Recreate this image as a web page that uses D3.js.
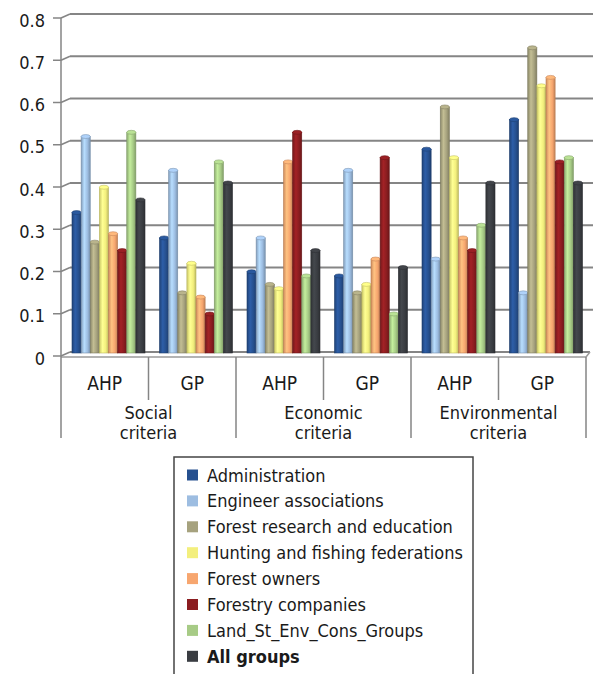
<!DOCTYPE html>
<html lang="en">
<head>
<meta charset="utf-8">
<title>Criteria weights by group</title>
<script type="text/javascript" src="https://cdn.jsdelivr.net/npm/d3@7"></script>
<style>
  body { margin: 0; background: #fff; }
  text { fill: #1a1a1a; font-family: "DejaVu Sans Condensed", "DejaVu Sans", sans-serif; font-stretch: condensed; }
  .tick-label { font-size: 18px; }
  .cat-label { font-size: 19px; }
  .legend-label { font-size: 18px; }
</style>
</head>
<body>
<div id="bod"></div>
<script type="text/javascript">
  // categories
  let criteria = ["Social criteria", "Economic criteria", "Environmental criteria"]
  let methods = ["AHP", "GP"]
  let yTicks = [0, 0.1, 0.2, 0.3, 0.4, 0.5, 0.6, 0.7, 0.8]

  // series (Social AHP, Social GP, Economic AHP, Economic GP, Environmental AHP, Environmental GP)
  let seriesNames = ["Administration", "Engineer associations", "Forest research and education",
                     "Hunting and fishing federations", "Forest owners", "Forestry companies",
                     "Land_St_Env_Cons_Groups", "All groups"]
  let administration   = [0.33, 0.27, 0.19, 0.18, 0.48, 0.55]
  let engineers        = [0.51, 0.43, 0.27, 0.43, 0.22, 0.14]
  let forestResearch   = [0.26, 0.14, 0.16, 0.14, 0.58, 0.72]
  let huntingFishing   = [0.39, 0.21, 0.15, 0.16, 0.46, 0.63]
  let forestOwners     = [0.28, 0.13, 0.45, 0.22, 0.27, 0.65]
  let forestryCompanies= [0.24, 0.09, 0.52, 0.46, 0.24, 0.45]
  let landEnvGroups    = [0.52, 0.45, 0.18, 0.09, 0.30, 0.46]
  let allGroups        = [0.36, 0.40, 0.24, 0.20, 0.40, 0.40]

  let seriesValues = [administration, engineers, forestResearch, huntingFishing,
                      forestOwners, forestryCompanies, landEnvGroups, allGroups]
  let colors = ["#26508f", "#9dbde1", "#a6a27e", "#f3ef7d", "#f7a66f", "#8b1d20", "#a7cb86", "#3a3d42"]

  let w = 593
  let h = 674
  let depthX = 9
  let depthY = 4

  let groupKeys = []
  criteria.forEach(function(c) { methods.forEach(function(m) { groupKeys.push(c + "|" + m) }) })

  let svg = d3.select("#bod")
              .append("svg")
              .attr("width", w)
              .attr("height", h);

  let defs = svg.append("defs")
  colors.forEach(function(c, i) {
    let g = defs.append("linearGradient")
                .attr("id", "cyl" + i)
                .attr("x1", "0%").attr("x2", "100%")
                .attr("y1", "0%").attr("y2", "0%")
    g.append("stop").attr("offset", "0%").attr("stop-color", d3.color(c).darker(0.5))
    g.append("stop").attr("offset", "35%").attr("stop-color", d3.color(c).brighter(0.45))
    g.append("stop").attr("offset", "70%").attr("stop-color", c)
    g.append("stop").attr("offset", "100%").attr("stop-color", d3.color(c).darker(0.7))
  })

  let yScale = d3.scaleLinear()
                 .domain([0, 0.8])
                 .range([352, 14]);

  let xGroup = d3.scaleBand()
                 .domain(groupKeys)
                 .range([61, 586]);

  let xSeries = d3.scaleBand()
                  .domain(seriesNames)
                  .range([11, 84]);

  let axisX = xGroup.range()[0]
  let floorRight = xGroup.range()[1]

  // gridlines on the back wall + slanted side wall edge
  yTicks.forEach(function(t) {
    let y = yScale(t)
    svg.append("line")
       .attr("x1", axisX + depthX).attr("x2", t === 0 ? floorRight + 4 : w)
       .attr("y1", y).attr("y2", y)
       .attr("stroke", "#858585").attr("stroke-width", 2)
    svg.append("line")
       .attr("x1", axisX).attr("x2", axisX + depthX)
       .attr("y1", y + depthY).attr("y2", y)
       .attr("stroke", "#858585").attr("stroke-width", 1.5)
    svg.append("line")
       .attr("x1", axisX - 8).attr("x2", axisX)
       .attr("y1", y + depthY).attr("y2", y + depthY)
       .attr("stroke", "#858585").attr("stroke-width", 1.5)
    svg.append("text")
       .attr("class", "tick-label")
       .attr("x", 45)
       .attr("y", y + depthY + 2)
       .attr("text-anchor", "end")
       .attr("dominant-baseline", "central")
       .text(t === 0 ? "0" : d3.format(".1f")(t))
  })

  // floor front edge
  svg.append("line")
     .attr("x1", axisX).attr("x2", floorRight)
     .attr("y1", yScale(0) + depthY + 1).attr("y2", yScale(0) + depthY + 1)
     .attr("stroke", "#9a9a9a").attr("stroke-width", 1.5)
  svg.append("line")
     .attr("x1", floorRight).attr("x2", floorRight + 4)
     .attr("y1", yScale(0) + depthY + 1).attr("y2", yScale(0))
     .attr("stroke", "#9a9a9a").attr("stroke-width", 1.5)

  // value axis line
  svg.append("line")
     .attr("x1", axisX).attr("x2", axisX)
     .attr("y1", yScale(0.8) + depthY).attr("y2", 438)
     .attr("stroke", "#858585").attr("stroke-width", 1.5)

  // bars as cylinders
  seriesNames.forEach(function(name, si) {
    let bars = svg.append("g").selectAll("g")
                  .data(seriesValues[si])
                  .enter()
                  .append("g")
    let bw = xSeries.bandwidth()
    bars.append("rect")
        .attr("x", function(d, i) { return xGroup(groupKeys[i]) + xSeries(name); })
        .attr("y", function(d) { return yScale(d); })
        .attr("width", bw)
        .attr("height", function(d) { return yScale(0) - yScale(d) + 1; })
        .attr("fill", "url(#cyl" + si + ")")
        .attr("stroke", d3.color(colors[si]).darker(0.8))
        .attr("stroke-width", 0.6)
    bars.append("ellipse")
        .attr("cx", function(d, i) { return xGroup(groupKeys[i]) + xSeries(name) + bw / 2; })
        .attr("cy", function(d) { return yScale(d); })
        .attr("rx", bw / 2)
        .attr("ry", 2)
        .attr("fill", d3.color(colors[si]).brighter(0.3))
        .attr("stroke", d3.color(colors[si]).darker(0.6))
        .attr("stroke-width", 0.6)
  })

  // category axis: separators and labels
  let catTop = yScale(0) + depthY + 1
  groupKeys.concat(["end"]).forEach(function(k, i) {
    let x = k === "end" ? floorRight : xGroup(k)
    if (i === 0) return
    svg.append("line")
       .attr("x1", x).attr("x2", x)
       .attr("y1", catTop).attr("y2", i % 2 === 0 ? 438 : 400)
       .attr("stroke", "#858585").attr("stroke-width", 1.5)
  })

  groupKeys.forEach(function(k) {
    svg.append("text")
       .attr("class", "cat-label")
       .attr("x", xGroup(k) + xGroup.bandwidth() / 2)
       .attr("y", 383)
       .attr("text-anchor", "middle")
       .attr("dominant-baseline", "central")
       .text(k.split("|")[1])
  })

  criteria.forEach(function(c) {
    let cx = xGroup(c + "|" + methods[0]) + xGroup.bandwidth()
    let words = c.split(" ")
    words.forEach(function(word, j) {
      svg.append("text")
         .attr("class", "cat-label")
         .attr("x", cx)
         .attr("y", 412 + j * 20)
         .attr("text-anchor", "middle")
         .attr("dominant-baseline", "central")
         .style("font-size", "18px")
         .text(word)
    })
  })

  // legend
  let legend = svg.append("g")
  legend.append("rect")
        .attr("x", 174).attr("y", 457)
        .attr("width", 299).attr("height", 230)
        .attr("fill", "#fff")
        .attr("stroke", "#444").attr("stroke-width", 1.5)

  let items = legend.selectAll("g.item")
                    .data(seriesNames)
                    .enter()
                    .append("g")
                    .attr("class", "item")
                    .attr("transform", function(d, i) { return "translate(187," + (475 + i * 25.9) + ")"; })
  items.append("rect")
       .attr("x", 0).attr("y", -5.5)
       .attr("width", 11).attr("height", 11)
       .attr("fill", function(d, i) { return colors[i]; })
  items.append("text")
       .attr("class", "legend-label")
       .attr("x", 20)
       .attr("y", 0)
       .attr("dominant-baseline", "central")
       .style("font-weight", function(d, i) { return i === seriesNames.length - 1 ? "bold" : "normal"; })
       .text(function(d) { return d; })
</script>
</body>
</html>
